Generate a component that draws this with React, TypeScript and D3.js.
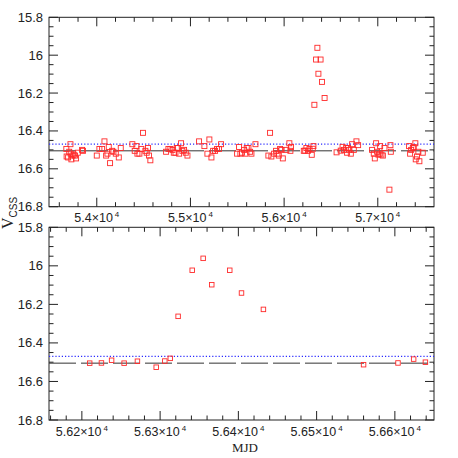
import React, { useRef, useEffect } from 'react';
import * as d3 from 'd3';

// light curve, MJD vs V (CSS)
const mjd = [
  53675, 53678, 53694, 53706, 53719, 53722, 53729, 53740, 53754, 53768, 53779, 53797, 53843, 53853,
  54000, 54028, 54057, 54082, 54100, 54114, 54128, 54142, 54164, 54178, 54203, 54235, 54256,
  54380, 54405, 54423, 54434, 54455, 54476, 54494, 54519, 54533, 54547, 54558, 54572,
  54740, 54765, 54786, 54808, 54822, 54840, 54854, 54868, 54879, 54900, 54914, 54932, 54950, 54968,
  55092, 55149, 55181, 55202, 55224, 55242, 55263, 55284, 55305, 55327,
  55498, 55519, 55533, 55550, 55573, 55587, 55601, 55619, 55637, 55651, 55694,
  55832, 55850, 55864, 55893, 55914, 55929, 55943, 55957, 55971, 55986, 56024, 56056, 56067, 56074,
  56210, 56225, 56238, 56254, 56271, 56295, 56306, 56313, 56323, 56341, 56355, 56366, 56389, 56404, 56432,
  56560, 56604, 56624, 56639, 56662, 56672, 56683, 56697, 56712, 56726, 56744, 56772, 56790,
  56939, 56957, 56968, 56982, 56993, 57007, 57021, 57025, 57039, 57054, 57071, 57124, 57135, 57139,
  57334, 57345, 57356, 57374, 57384, 57401, 57405, 57419, 57433, 57444, 57480,
];
const vmag = [
  16.495, 16.535, 16.54, 16.51, 16.47, 16.52, 16.55, 16.53, 16.525, 16.53, 16.545, 16.515, 16.5, 16.505,
  16.53, 16.495, 16.495, 16.455, 16.53, 16.52, 16.485, 16.57, 16.505, 16.51, 16.52, 16.54, 16.49,
  16.47, 16.505, 16.48, 16.52, 16.52, 16.495, 16.41, 16.505, 16.515, 16.49, 16.53, 16.555,
  16.51, 16.495, 16.495, 16.5, 16.515, 16.515, 16.49, 16.49, 16.52, 16.465, 16.505, 16.5, 16.515, 16.53,
  16.455, 16.48, 16.52, 16.445, 16.54, 16.505, 16.505, 16.495, 16.495, 16.47,
  16.52, 16.485, 16.52, 16.515, 16.5, 16.52, 16.49, 16.49, 16.51, 16.52, 16.47,
  16.53, 16.41, 16.535, 16.52, 16.505, 16.52, 16.53, 16.495, 16.5, 16.545, 16.5, 16.465, 16.505, 16.485,
  16.505, 16.504, 16.49, 16.505, 16.495, 16.526, 16.494, 16.48, 16.262, 16.023, 15.961, 16.098, 16.023, 16.141, 16.226,
  16.513, 16.504, 16.484, 16.5, 16.49, 16.515, 16.49, 16.5, 16.52, 16.47, 16.5, 16.455, 16.475,
  16.5, 16.52, 16.545, 16.465, 16.51, 16.525, 16.52, 16.48, 16.525, 16.53, 16.49, 16.71, 16.475, 16.51,
  16.48, 16.52, 16.5, 16.49, 16.485, 16.465, 16.55, 16.535, 16.51, 16.56, 16.515,
];
const meanMag = 16.505;
const refMag = 16.47;
const yTicks = [15.8, 16, 16.2, 16.4, 16.6, 16.8];
const topXTicks = [54000, 55000, 56000, 57000];
const botXTicks = [56200, 56300, 56400, 56500, 56600];

const W = 458;
const H = 458;
const left = 49;
const right = 434;

const Panel = (svg, opt) => {
  const { top, bottom, domain, ticks, minorStep, size } = opt;
  const x = d3.scaleLinear().domain(domain).range([left, right]);
  const y = d3.scaleLinear().domain([15.8, 16.8]).range([top, bottom]);
  const g = svg.append('g');
  const ink = '#222';

  g.append('rect')
    .attr('x', left).attr('y', top)
    .attr('width', right - left).attr('height', bottom - top)
    .attr('fill', 'none').attr('stroke', ink).attr('stroke-width', 1);

  // x ticks, bottom and top
  const minorX = d3.range(Math.ceil(domain[0] / minorStep) * minorStep, domain[1], minorStep);
  minorX.forEach(v => {
    const major = ticks.some(t => Math.abs(t - v) < 1e-6);
    const len = major ? 9 : 4.5;
    g.append('line').attr('x1', x(v)).attr('x2', x(v)).attr('y1', bottom).attr('y2', bottom - len).attr('stroke', ink);
    g.append('line').attr('x1', x(v)).attr('x2', x(v)).attr('y1', top).attr('y2', top + len).attr('stroke', ink);
  });
  // y ticks, left and right
  d3.range(15.8, 16.8001, 0.05).forEach(v => {
    const major = yTicks.some(t => Math.abs(t - v) < 1e-6);
    const len = major ? 9 : 4.5;
    g.append('line').attr('x1', left).attr('x2', left + len).attr('y1', y(v)).attr('y2', y(v)).attr('stroke', ink);
    g.append('line').attr('x1', right).attr('x2', right - len).attr('y1', y(v)).attr('y2', y(v)).attr('stroke', ink);
  });

  g.selectAll('.ylab').data(yTicks).join('text')
    .attr('x', left - 6).attr('y', d => y(d) + 4.5)
    .attr('text-anchor', 'end')
    .attr('font-family', 'Liberation Sans, Arial, sans-serif').attr('font-size', 13)
    .attr('fill', ink)
    .text(d => String(+d.toFixed(1)));

  const xl = g.selectAll('.xlab').data(ticks).join('text')
    .attr('x', d => x(d)).attr('y', bottom + 15.5)
    .attr('text-anchor', 'middle')
    .attr('font-family', 'Liberation Sans, Arial, sans-serif').attr('font-size', 12.5)
    .attr('fill', ink);
  xl.append('tspan').text(d => `${+(d / 1e4).toFixed(3)}\u00d710`);
  xl.append('tspan').attr('dy', -5).attr('dx', 2).attr('font-size', 8).text('4');

  // reference lines
  g.append('line').attr('x1', left).attr('x2', right).attr('y1', y(refMag)).attr('y2', y(refMag))
    .attr('stroke', '#2b2bff').attr('stroke-width', 1.2).attr('stroke-dasharray', '1.2,2');
  g.append('line').attr('x1', left).attr('x2', right).attr('y1', y(meanMag)).attr('y2', y(meanMag))
    .attr('stroke', '#333').attr('stroke-width', 1).attr('stroke-dasharray', '27,5');

  const pts = mjd.map((m, i) => ({ m, v: vmag[i] })).filter(d => d.m >= domain[0] && d.m <= domain[1]);
  g.append('g').selectAll('rect').data(pts).join('rect')
    .attr('x', d => x(d.m) - size / 2).attr('y', d => y(d.v) - size / 2)
    .attr('width', size).attr('height', size)
    .attr('fill', 'none').attr('stroke', '#ff2a2a').attr('stroke-width', 0.9);
};

const App = () => {
  const svgRef = useRef(null);

  useEffect(() => {
    const svg = d3.select(svgRef.current);
    svg.selectAll('*').remove();

    Panel(svg, { top: 17.3, bottom: 206.7, domain: [53490, 57600], ticks: topXTicks, minorStep: 200, size: 5 });
    Panel(svg, { top: 227.3, bottom: 420, domain: [56158, 56650], ticks: botXTicks, minorStep: 20, size: 4.5 });

    const yl = svg.append('text')
      .attr('transform', 'translate(13,229) rotate(-90)')
      .attr('font-family', 'Liberation Serif, Times New Roman, serif').attr('font-size', 16)
      .attr('fill', '#222');
    yl.append('tspan').text('V');
    yl.append('tspan').attr('dy', 4).attr('font-size', 10)
      .attr('font-family', 'Liberation Sans, Arial, sans-serif').text('CSS');

    svg.append('text')
      .attr('x', 245).attr('y', 452)
      .attr('text-anchor', 'middle')
      .attr('font-family', 'Liberation Serif, Times New Roman, serif').attr('font-size', 13)
      .attr('fill', '#222')
      .text('MJD');
  }, []);

  return (
    <svg ref={svgRef} width={W} height={H}
      style={{ position: 'fixed', left: 0, top: 0, background: '#fff' }} />
  );
};

export default App;
